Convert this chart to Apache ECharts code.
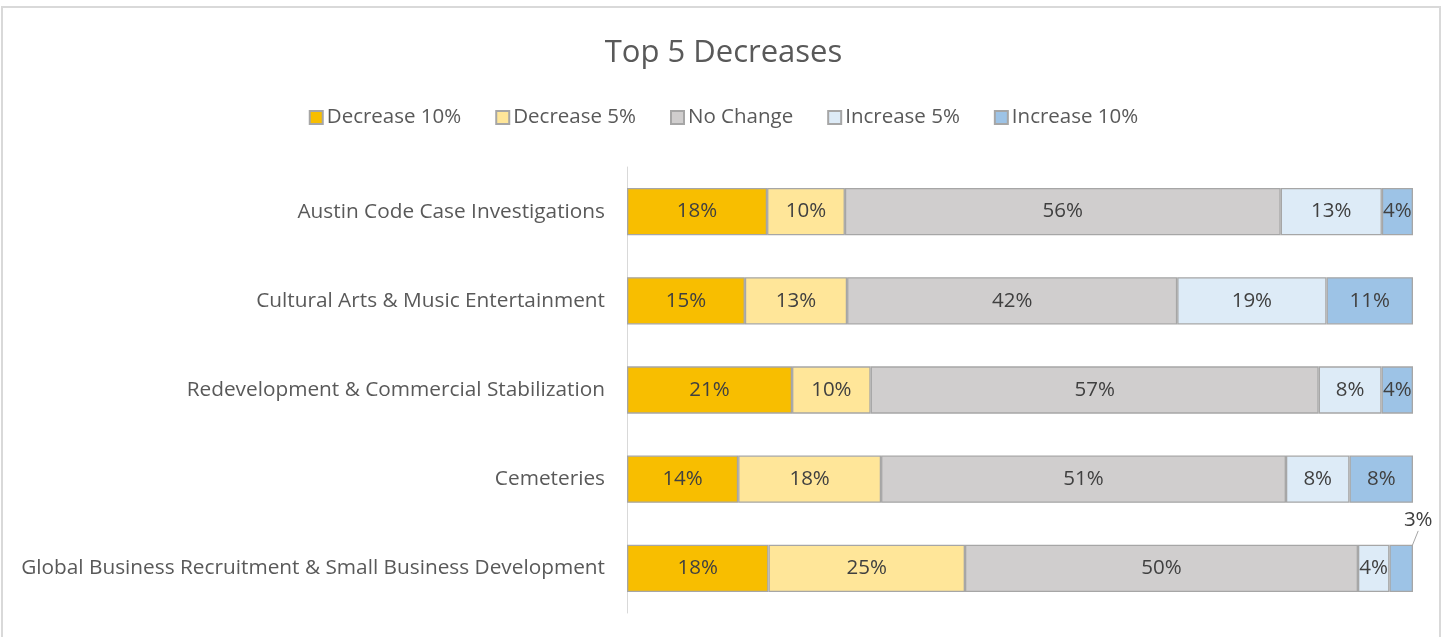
<!DOCTYPE html>
<html>
<head>
<meta charset="utf-8">
<script src="https://cdn.jsdelivr.net/npm/echarts@6/dist/echarts.min.js"></script>
<style>
html,body{margin:0;padding:0;background:#fff;}
#chart{width:1447px;height:637px;}
</style>
</head>
<body>
<div id="chart"></div>
<script>
const categories = [
  "Austin Code Case Investigations",
  "Cultural Arts & Music Entertainment",
  "Redevelopment & Commercial Stabilization",
  "Cemeteries",
  "Global Business Recruitment & Small Business Development"
];
const seriesNames = ["Decrease 10%", "Decrease 5%", "No Change", "Increase 5%", "Increase 10%"];
const decrease10 = [18, 15, 21, 14, 18];
const decrease5  = [10, 13, 10, 18, 25];
const noChange   = [56, 42, 57, 51, 50];
const increase5  = [13, 19, 8, 8, 4];
const increase10 = [4, 11, 4, 8, 3];
const colors = ["#F8BE00", "#FFE699", "#D0CECE", "#DDEBF7", "#9DC3E6"];

const raw = [decrease10, decrease5, noChange, increase5, increase10];
const rowSums = categories.map((c, i) => raw.reduce((s, arr) => s + arr[i], 0));

const FONT = "'Open Sans', 'Liberation Sans', sans-serif";

const series = raw.map((arr, si) => ({
  name: seriesNames[si],
  type: 'bar',
  stack: 'total',
  barCategoryGap: '47%',
  itemStyle: { color: colors[si], borderColor: '#A6A6A6', borderWidth: 1.3 },
  label: {
    show: true,
    position: 'inside',
    color: '#404040',
    fontFamily: FONT,
    fontSize: 20.5,
    offset: [0, 2],
    formatter: p => raw[si][p.dataIndex] + '%'
  },
  labelLine: { show: false, lineStyle: { color: '#A6A6A6', width: 1 } },
  emphasis: { disabled: true },
  data: arr.map((v, i) => {
    const item = { value: v / rowSums[i] * 100 };
    if (si === 4 && i === 4) {
      item.labelLine = { show: true, lineStyle: { color: '#A6A6A6', width: 1 } };
    }
    return item;
  })
}));

const chart = echarts.init(document.getElementById('chart'));
chart.setOption({
  animation: false,
  backgroundColor: '#fff',
  title: {
    text: 'Top 5 Decreases',
    left: 'center',
    top: 33,
    textStyle: { fontFamily: FONT, fontSize: 31, fontWeight: 'normal', color: '#595959' }
  },
  legend: {
    top: 102,
    left: 'center',
    itemWidth: 13,
    itemHeight: 13,
    itemGap: 34,
    icon: 'rect',
    textStyle: { fontFamily: FONT, fontSize: 20.5, color: '#595959', padding: [0, 0, 0, -1] },
    data: seriesNames
  },
  grid: { left: 627, right: 34, top: 167, bottom: 24, containLabel: false },
  xAxis: {
    type: 'value', min: 0, max: 100, show: false
  },
  yAxis: {
    type: 'category',
    inverse: true,
    data: categories,
    axisLine: { show: true, lineStyle: { color: '#D9D9D9', width: 1 } },
    axisTick: { show: false },
    axisLabel: { fontFamily: FONT, fontSize: 20.8, color: '#595959', margin: 22 }
  },
  labelLayout: function (params) {
    if (params.seriesIndex === 4 && params.dataIndex === 4) {
      return { dx: 17, dy: -48 };
    }
  },
  graphic: [{
    type: 'rect',
    shape: { x: 2, y: 7, width: 1438, height: 640 },
    style: { fill: 'none', stroke: '#D9D9D9', lineWidth: 2 },
    silent: true
  }],
  series: series
});
</script>
</body>
</html>
